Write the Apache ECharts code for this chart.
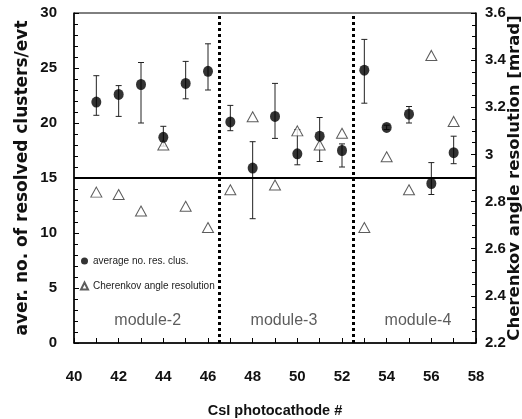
<!DOCTYPE html>
<html>
<head>
<meta charset="utf-8">
<script src="https://cdn.jsdelivr.net/npm/echarts@6/dist/echarts.min.js"></script>
<style>
  html, body { margin: 0; padding: 0; background: #fff; }
  #chart { width: 522px; height: 419px; }
</style>
</head>
<body>
<div id="chart"></div>
<script>
// CsI photocathode number
const photocathode = [41, 42, 43, 44, 45, 46, 47, 48, 49, 50, 51, 52, 53, 54, 55, 56, 57]
// average number of resolved clusters / evt, with error bar ends
const avgClusters = [21.9, 22.6, 23.5, 18.7, 23.6, 24.7, 20.1, 15.9, 20.6, 17.2, 18.8, 17.5, 24.8, 19.6, 20.8, 14.5, 17.3]
const clustersLow = [20.7, 20.6, 20.0, 17.9, 22.2, 23.0, 19.3, 11.3, 18.6, 16.2, 16.5, 16.0, 21.8, 19.4, 20.0, 13.5, 16.3]
const clustersHigh = [24.3, 23.4, 25.5, 19.7, 25.6, 27.2, 21.6, 18.3, 23.6, 19.4, 20.5, 18.1, 27.6, 19.8, 21.5, 16.4, 18.8]
// Cherenkov angle resolution [mrad]
const angleRes = [2.84, 2.83, 2.76, 3.04, 2.78, 2.69, 2.85, 3.16, 2.87, 3.10, 3.04, 3.09, 2.69, 2.99, 2.85, 3.42, 3.14]
// module boundaries and labels
const moduleEdges = [46.5, 52.5]
const moduleNames = ['module-2', 'module-3', 'module-4']
const moduleX = [43.3, 49.4, 55.4]
const moduleY = 2.0
const refLevel = 15

const sans = '"Liberation Sans", Arial, sans-serif'

const chart = echarts.init(document.getElementById('chart'))

const option = {
  animation: false,
  backgroundColor: '#fff',
  grid: {
    left: 74, right: 46, top: 13, bottom: 76,
    outerBoundsMode: 'none',
    show: true, borderColor: '#000', borderWidth: 1
  },
  legend: {
    orient: 'vertical',
    left: 75, top: 251,
    itemWidth: 7, itemHeight: 7, itemGap: 15,
    textStyle: { fontFamily: sans, fontSize: 10, color: '#222' },
    data: [
      { name: 'average no. res. clus.', icon: 'circle' },
      { name: 'Cherenkov angle resolution', icon: 'triangle' }
    ]
  },
  xAxis: {
    type: 'value', min: 40, max: 58, interval: 2,
    name: 'CsI photocathode #', nameLocation: 'center', nameGap: 60,
    nameTextStyle: { fontFamily: sans, fontSize: 14.5, fontWeight: 'bold', color: '#111' },
    axisLine: { lineStyle: { color: '#000', width: 1.5 } },
    axisTick: { inside: true, length: 5, lineStyle: { color: '#000' } },
    minorTick: { show: true, splitNumber: 2, length: 5, lineStyle: { color: '#000' } },
    splitLine: { show: false },
    axisLabel: { margin: 26, fontFamily: sans, fontSize: 15, fontWeight: 'bold', color: '#111' }
  },
  yAxis: [
    {
      type: 'value', min: 0, max: 30, interval: 5,
      name: 'aver. no. of resolved clusters/evt', nameLocation: 'middle', nameGap: 43, nameRotate: 90,
      nameMoveOverlap: false,
      nameTextStyle: { fontFamily: 'DejaVu Sans', fontSize: 17, fontWeight: 'bold', color: '#111' },
      axisLine: { show: true, lineStyle: { color: '#000', width: 1.5 } },
      axisTick: { inside: true, length: 5, lineStyle: { color: '#000' } },
      minorTick: { show: true, splitNumber: 5, length: 4, lineStyle: { color: '#000' } },
      splitLine: { show: false },
      axisLabel: { margin: 17, fontFamily: sans, fontSize: 15, fontWeight: 'bold', color: '#111' }
    },
    {
      type: 'value', min: 2.2, max: 3.6, interval: 0.2, position: 'right',
      name: 'Cherenkov angle resolution [mrad]', nameLocation: 'middle', nameGap: 30, nameRotate: 90,
      nameMoveOverlap: false,
      nameTextStyle: { fontFamily: 'DejaVu Sans', fontSize: 16.5, fontWeight: 'bold', color: '#111' },
      axisLine: { show: true, lineStyle: { color: '#000', width: 1.5 } },
      axisTick: { inside: true, length: 5, lineStyle: { color: '#000' } },
      minorTick: { show: true, splitNumber: 4, length: 4, lineStyle: { color: '#000' } },
      splitLine: { show: false },
      axisLabel: {
        margin: 9, fontFamily: sans, fontSize: 15, fontWeight: 'bold', color: '#111',
        formatter: v => (Math.abs(v - 3) < 1e-9 ? '3' : v.toFixed(1))
      }
    }
  ],
  series: [
    {
      name: 'guides',
      type: 'line',
      data: [],
      yAxisIndex: 0,
      markLine: {
        silent: true, symbol: 'none', label: { show: false },
        data: [
          { yAxis: refLevel, lineStyle: { color: '#000', width: 2, type: 'solid' } },
          ...moduleEdges.map(x => ({ xAxis: x, lineStyle: { color: '#000', width: 3, type: [3, 3] } }))
        ]
      }
    },
    {
      name: 'errors',
      type: 'custom',
      yAxisIndex: 0,
      data: photocathode.map((x, i) => [x, clustersLow[i], clustersHigh[i]]),
      renderItem: (params, api) => {
        const lo = api.coord([api.value(0), api.value(1)])
        const hi = api.coord([api.value(0), api.value(2)])
        const w = 3
        const style = { stroke: '#222', lineWidth: 1 }
        return {
          type: 'group',
          children: [
            { type: 'line', shape: { x1: lo[0], y1: lo[1], x2: hi[0], y2: hi[1] }, style },
            { type: 'line', shape: { x1: lo[0] - w, y1: lo[1], x2: lo[0] + w, y2: lo[1] }, style },
            { type: 'line', shape: { x1: hi[0] - w, y1: hi[1], x2: hi[0] + w, y2: hi[1] }, style }
          ]
        }
      },
      z: 2
    },
    {
      name: 'Cherenkov angle resolution',
      type: 'scatter',
      yAxisIndex: 1,
      symbol: 'triangle',
      symbolSize: [11, 10],
      itemStyle: { color: '#fff', borderColor: '#333', borderWidth: 1 },
      data: photocathode.map((x, i) => [x, angleRes[i]]),
      z: 3
    },
    {
      name: 'average no. res. clus.',
      type: 'scatter',
      yAxisIndex: 0,
      symbol: 'circle',
      symbolSize: [10, 11],
      itemStyle: { color: '#000' },
      data: photocathode.map((x, i) => [x, avgClusters[i]]),
      z: 4
    },
    {
      name: 'modules',
      type: 'scatter',
      yAxisIndex: 0,
      symbolSize: 0,
      silent: true,
      data: moduleNames.map((n, i) => ({ value: [moduleX[i], moduleY], name: n })),
      label: {
        show: true, position: 'inside', formatter: p => p.name,
        fontFamily: sans, fontSize: 16, color: '#333'
      }
    }
  ]
}

chart.setOption(option)
</script>
</body>
</html>
